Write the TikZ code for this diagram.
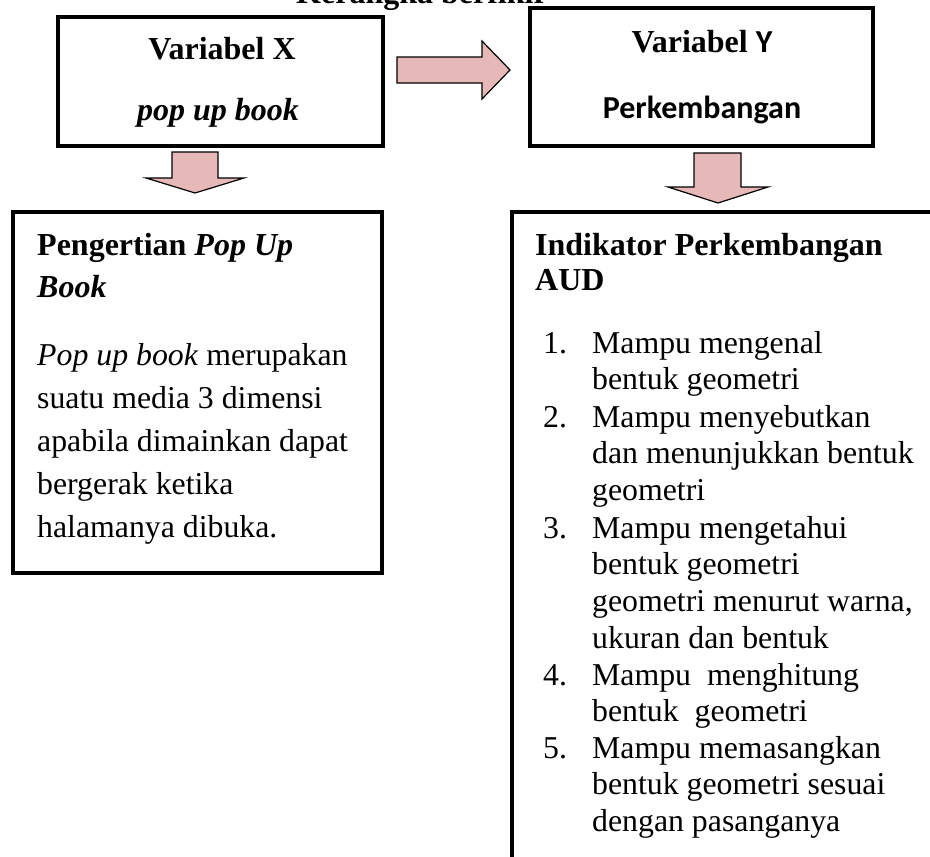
\documentclass[tikz,border=0pt]{standalone}
\usepackage{fontspec}
\setmainfont{Liberation Serif}
\newfontfamily\calibri{Carlito}
\usetikzlibrary{positioning,calc}

\definecolor{pinkfill}{RGB}{230,184,183}

\tikzset{
	box/.style={draw, line width=4.5pt, inner sep=0pt},
	blockarrow/.style={draw, line width=1.2pt, fill=pinkfill, line join=miter},
	txt/.style={anchor=base west, inner sep=0pt, align=left},
	headtxt/.style={anchor=base, inner sep=0pt, font=\fontsize{32}{37}\selectfont\bfseries}
}

\begin{document}
\begin{tikzpicture}[x=1pt, y=-1pt]
	\clip (0,0) rectangle (930,857);
	\fill[white] (0,0) rectangle (930,857);

	% title, cut at the top edge
	\node[headtxt] (title) at (422,3) {Kerangka berfikir};

	% the two variables
	\node[box, minimum width=325pt, minimum height=129pt] (varX) at (220.5,81.5) {};
	\node[box, minimum width=343pt, minimum height=138pt] (varY) at (701.5,77) {};
	\node[headtxt] (varXname) at (222,59) {Variabel X};
	\node[headtxt] (varXsub) at (218,120) {\itshape pop up book};
	\node[headtxt] (varYname) at (702,52) {Variabel {\calibri Y}};
	\node[headtxt] (varYsub) at (702,118) {\calibri Perkembangan};

	% lower boxes
	\node[box, minimum width=369pt, minimum height=361pt] (defBox) at (197.5,392.5) {};
	\node[box, minimum width=433pt, minimum height=668pt] (indBox) at (728.5,546) {};

	% block arrows
	\draw[blockarrow] (397,57) -- (482,57) -- (482,41) -- (510,70)
		-- (482,99) -- (482,83) -- (397,83) -- cycle;
	\draw[blockarrow] (172,152) -- (218,152) -- (218,178) -- (244,178)
		-- (195,193) -- (146,178) -- (172,178) -- cycle;
	\draw[blockarrow] (694,153) -- (741,153) -- (741,187) -- (768,187)
		-- (718,203) -- (668,187) -- (694,187) -- cycle;

	% text of the definition box (placed at the baseline of the last line)
	\node[txt, font=\fontsize{32}{42}\selectfont\bfseries] (defHead) at (37,297)
		{Pengertian \textit{Pop Up}\\\textit{Book}};
	\node[txt, font=\fontsize{31.8}{43}\selectfont] (defText) at (37,537)
		{\textit{Pop up book} merupakan\\suatu media 3 dimensi\\apabila dimainkan dapat\\bergerak ketika\\halamanya dibuka.};

	% text of the indicator box
	\node[txt, font=\fontsize{32}{35}\selectfont\bfseries] (indHead) at (535,290)
		{Indikator Perkembangan\\AUD};
	\foreach \n/\yy/\k/\item in {%
		1/353/2/{Mampu mengenal\\bentuk geometri},
		2/427/3/{Mampu menyebutkan\\dan menunjukkan bentuk\\geometri},
		3/538/4/{Mampu mengetahui\\bentuk geometri\\geometri menurut warna,\\ukuran dan bentuk},
		4/685/2/{Mampu~ menghitung\\bentuk~ geometri},
		5/758/3/{Mampu memasangkan\\bentuk geometri sesuai\\dengan pasanganya}}{
		\node[txt, font=\fontsize{31.8}{36.7}\selectfont] (num\n) at (543,\yy) {\n.};
		\node[txt, font=\fontsize{31.8}{36.7}\selectfont] (item\n) at (592,{\yy+(\k-1)*36.7}) {\item};
	}
\end{tikzpicture}
\end{document}
